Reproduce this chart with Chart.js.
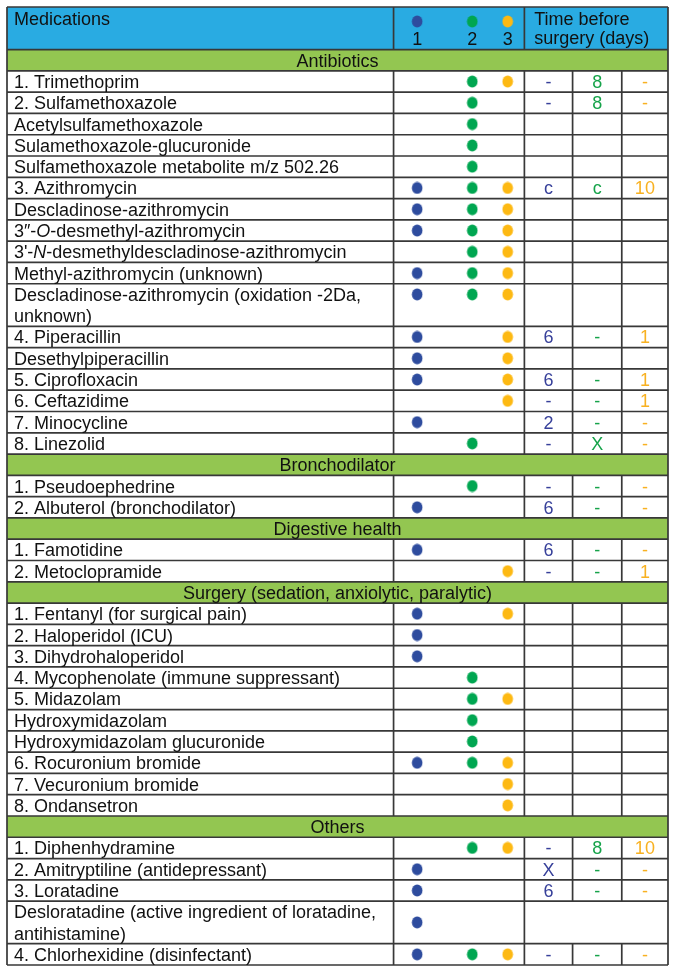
<!DOCTYPE html>
<html>
<head>
<meta charset="utf-8">
<script src="https://cdn.jsdelivr.net/npm/chart.js@4.4.1/dist/chart.umd.min.js"></script>
<style>
html,body{margin:0;padding:0;background:#fff;}
canvas{display:block;}
</style>
</head>
<body>
<canvas id="c" width="675" height="972"></canvas>
<script>
// ---------------- DATA ----------------
const headerMedications = "Medications";
const headerTime = ["Time before", "surgery (days)"];
const groupLabels = ["1", "2", "3"];
const sectionTitles = ["Antibiotics", "Bronchodilator", "Digestive health",
  "Surgery (sedation, anxiolytic, paralytic)", "Others"];
const medNames = [
  "1. Trimethoprim", "2. Sulfamethoxazole", "Acetylsulfamethoxazole", "Sulamethoxazole-glucuronide",
  "Sulfamethoxazole metabolite m/z 502.26", "3. Azithromycin", "Descladinose-azithromycin",
  "3\u2033-_O_-desmethyl-azithromycin", "3'-_N_-desmethyldescladinose-azithromycin",
  "Methyl-azithromycin (unknown)", "Descladinose-azithromycin (oxidation -2Da,\nunknown)",
  "4. Piperacillin", "Desethylpiperacillin", "5. Ciprofloxacin", "6. Ceftazidime", "7. Minocycline",
  "8. Linezolid",
  "1. Pseudoephedrine", "2. Albuterol (bronchodilator)",
  "1. Famotidine", "2. Metoclopramide",
  "1. Fentanyl (for surgical pain)", "2. Haloperidol (ICU)", "3. Dihydrohaloperidol",
  "4. Mycophenolate (immune suppressant)", "5. Midazolam", "Hydroxymidazolam",
  "Hydroxymidazolam glucuronide", "6. Rocuronium bromide", "7. Vecuronium bromide", "8. Ondansetron",
  "1. Diphenhydramine", "2. Amitryptiline (antidepressant)", "3. Loratadine",
  "Desloratadine (active ingredient of loratadine,\nantihistamine)", "4. Chlorhexidine (disinfectant)"
];
const medSection = [0,0,0,0,0,0,0,0,0,0,0,0,0,0,0,0,0, 1,1, 2,2, 3,3,3,3,3,3,3,3,3,3, 4,4,4,4,4];
const inGroup1 = [0,0,0,0,0,1,1,1,0,1,1,1,1,1,0,1,0, 0,1, 1,0, 1,1,1,0,0,0,0,1,0,0, 0,1,1,1,1];
const inGroup2 = [1,1,1,1,1,1,1,1,1,1,1,0,0,0,0,0,1, 1,0, 0,0, 0,0,0,1,1,1,1,1,0,0, 1,0,0,0,1];
const inGroup3 = [1,0,0,0,0,1,1,1,1,1,1,1,1,1,1,0,0, 0,0, 0,1, 1,0,0,0,1,0,0,1,1,1, 1,0,0,0,1];
const time1 = ["-","-","","","","c","","","","","","6","","6","-","2","-", "-","6", "6","-", "","","","","","","","","","", "-","X","6","","-"];
const time2 = ["8","8","","","","c","","","","","","-","","-","-","-","X", "-","-", "-","-", "","","","","","","","","","", "8","-","-","","-"];
const time3 = ["-","-","","","","10","","","","","","1","","1","1","-","-", "-","-", "-","1", "","","","","","","","","","", "10","-","-","","-"];
const mergedTimeRows = ["Desloratadine (active ingredient of loratadine,\nantihistamine)"];

// ---------------- LAYOUT / STYLE ----------------
const X = { left: 0, nameEnd: 393, dotsEnd: 526, t1End: 575, t2End: 625, right: 672,
  dots: [417, 473, 509], textPad: 7, timeHeaderX: 536 };
const HEADER_UNITS = 2;
const FONT = '"Liberation Sans", Arial, sans-serif';
const FONT_SIZE = 18;
const COLORS = {
  header: '#29abe2', band: '#93c651', line: '#383838', text: '#111111',
  groups: ['#2e4c9e', '#00a651', '#fdb913'],
  times: ['#37409a', '#16a34a', '#f8b121']
};

// ---------------- BUILD ROWS ----------------
const rows = [];
let cursor = HEADER_UNITS;
sectionTitles.forEach((title, s) => {
  rows.push({ type: 'band', title, y0: cursor, y1: cursor + 1 });
  cursor += 1;
  medNames.forEach((name, i) => {
    if (medSection[i] !== s) return;
    const lines = name.split('\n');
    rows.push({ type: 'med', idx: i, lines, y0: cursor, y1: cursor + lines.length,
      merged: mergedTimeRows.includes(name) });
    cursor += lines.length;
  });
});
const TOTAL_UNITS = cursor;

function dotY(r) {
  const n = r.lines.length;
  if (n > 1 && !r.merged) return r.y0 + 0.5;
  return (r.y0 + r.y1) / 2;
}

const groupFlags = [inGroup1, inGroup2, inGroup3];
function ellipseImg(color) {
  const c = document.createElement('canvas');
  c.width = 12; c.height = 13;
  const g = c.getContext('2d');
  g.fillStyle = color;
  g.beginPath(); g.ellipse(6, 6.5, 5.3, 6, 0, 0, Math.PI * 2); g.fill();
  return c;
}
const datasets = groupFlags.map((flags, g) => {
  const data = [{ x: X.dots[g], y: 0.68 }];
  rows.forEach(r => {
    if (r.type === 'med' && flags[r.idx]) data.push({ x: X.dots[g], y: dotY(r) });
  });
  return { label: groupLabels[g], data, pointStyle: ellipseImg(COLORS.groups[g]),
    pointRadius: 6, pointHoverRadius: 6, showLine: false };
});

function drawRich(ctx, text, x, y) {
  const parts = text.split('_');
  let cx = x;
  parts.forEach((p, k) => {
    ctx.font = (k % 2 ? 'italic ' : '') + FONT_SIZE + 'px ' + FONT;
    ctx.fillText(p, cx, y);
    cx += ctx.measureText(p).width;
  });
}

const tablePlugin = {
  id: 'table',
  beforeDatasetsDraw(chart) {
    const ctx = chart.ctx;
    const xs = chart.scales.x, ys = chart.scales.y;
    const px = v => xs.getPixelForValue(v);
    const py = v => ys.getPixelForValue(v);
    ctx.save();
    ctx.fillStyle = '#fff';
    ctx.fillRect(0, 0, chart.width, chart.height);
    ctx.fillStyle = COLORS.header;
    ctx.fillRect(px(X.left), py(0), px(X.right) - px(X.left), py(HEADER_UNITS) - py(0));
    ctx.fillStyle = COLORS.band;
    rows.forEach(r => {
      if (r.type === 'band') ctx.fillRect(px(X.left), py(r.y0), px(X.right) - px(X.left), py(r.y1) - py(r.y0));
    });
    ctx.strokeStyle = COLORS.line;
    ctx.lineWidth = 1.7;
    ctx.beginPath();
    const hline = y => { ctx.moveTo(px(X.left), py(y)); ctx.lineTo(px(X.right), py(y)); };
    const vline = (x, y0, y1) => { ctx.moveTo(px(x), py(y0)); ctx.lineTo(px(x), py(y1)); };
    hline(0);
    hline(HEADER_UNITS);
    vline(X.nameEnd, 0, HEADER_UNITS);
    vline(X.dotsEnd, 0, HEADER_UNITS);
    rows.forEach(r => {
      hline(r.y1);
      if (r.type === 'med') {
        vline(X.nameEnd, r.y0, r.y1);
        vline(X.dotsEnd, r.y0, r.y1);
        if (!r.merged) { vline(X.t1End, r.y0, r.y1); vline(X.t2End, r.y0, r.y1); }
      }
    });
    vline(X.left, 0, TOTAL_UNITS);
    vline(X.right, 0, TOTAL_UNITS);
    ctx.stroke();

    ctx.fillStyle = COLORS.text;
    ctx.font = FONT_SIZE + 'px ' + FONT;
    ctx.textAlign = 'left';
    ctx.textBaseline = 'alphabetic';
    ctx.fillText(headerMedications, px(X.textPad), py(0) + 18);
    ctx.fillText(headerTime[0], px(X.timeHeaderX), py(0) + 18);
    ctx.fillText(headerTime[1], px(X.timeHeaderX), py(0) + 37);
    ctx.textAlign = 'center';
    groupLabels.forEach((l, g) => ctx.fillText(l, px(X.dots[g]), py(0) + 38));

    const tCenters = [(X.dotsEnd + X.t1End) / 2, (X.t1End + X.t2End) / 2, (X.t2End + X.right) / 2];
    const times = [time1, time2, time3];
    rows.forEach(r => {
      if (r.type === 'band') {
        ctx.textAlign = 'center';
        ctx.fillStyle = COLORS.text;
        ctx.font = FONT_SIZE + 'px ' + FONT;
        ctx.fillText(r.title, (px(X.left) + px(X.right)) / 2, py((r.y0 + r.y1) / 2) + 6.5);
        return;
      }
      ctx.textAlign = 'left';
      ctx.fillStyle = COLORS.text;
      r.lines.forEach((line, k) => {
        drawRich(ctx, line, px(X.textPad), py(r.y0 + k + 0.5) + 6.5);
      });
      ctx.textAlign = 'center';
      ctx.font = FONT_SIZE + 'px ' + FONT;
      times.forEach((arr, g) => {
        const v = arr[r.idx];
        if (!v) return;
        ctx.fillStyle = COLORS.times[g];
        ctx.fillText(v, px(tCenters[g]), py(r.y0 + 0.5) + 6.5);
      });
    });
    ctx.restore();
  }
};

new Chart(document.getElementById('c'), {
  type: 'scatter',
  data: { datasets },
  options: {
    responsive: false,
    animation: false,
    events: [],
    layout: { padding: { left: 1, right: 2, top: 1, bottom: 1 } },
    plugins: { legend: { display: false }, tooltip: { enabled: false } },
    scales: {
      x: { type: 'linear', min: X.left, max: X.right, display: false },
      y: { type: 'linear', min: 0, max: TOTAL_UNITS, reverse: true, display: false }
    }
  },
  plugins: [tablePlugin]
});
</script>
</body>
</html>
